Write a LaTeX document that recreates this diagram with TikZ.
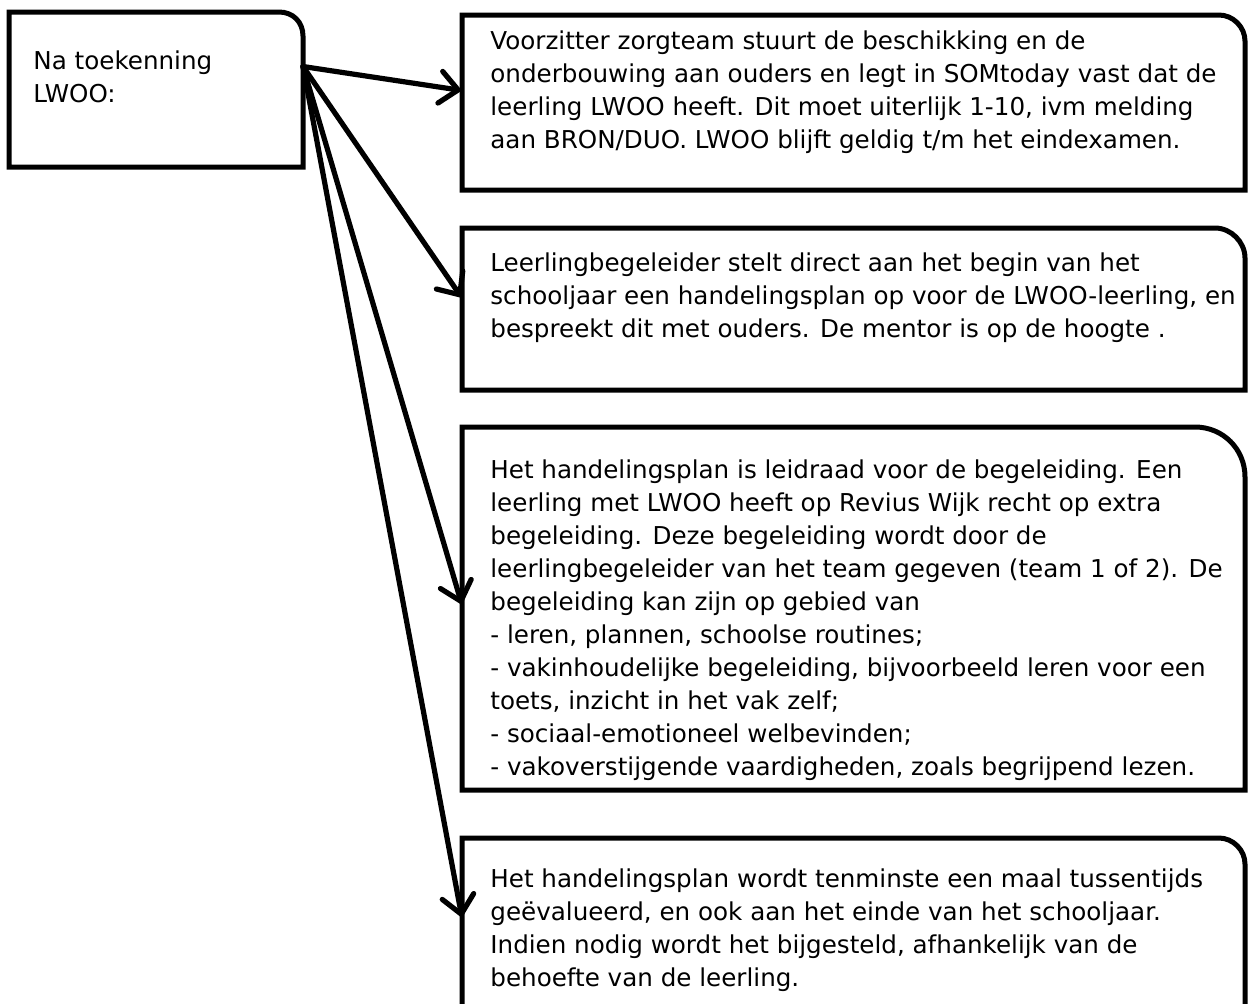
\documentclass[tikz,border=0pt]{standalone}
\usepackage{fontspec}
\setmainfont{DejaVu Sans}
\usetikzlibrary{arrows.meta}

\tikzset{
  cbox/.style={draw=none, anchor=north west, inner sep=0pt, outer sep=0pt},
  frame/.style={line width=2.5pt},
  txt/.style={anchor=north west, inner sep=0pt, align=left,
    font=\fontsize{12.3pt}{16.5pt}\selectfont},
  link/.style={line width=2.6pt, line cap=round,
    -{Straight Barb[length=9pt,width=16pt,line cap=round]}}
}

\begin{document}
\begin{tikzpicture}[x=0.5pt, y=-0.5pt]
        \clip (0,0) rectangle (1248,1003);
        % box outlines, one round corner each
        \node[cbox, minimum width=147pt, minimum height=77.5pt] (b0) at (9,12) {};
        \node[cbox, minimum width=391.5pt, minimum height=87.5pt] (b1) at (462,15) {};
        \node[cbox, minimum width=391.5pt, minimum height=81pt] (b2) at (462,228) {};
        \node[cbox, minimum width=391.5pt, minimum height=181.5pt] (b3) at (462,427) {};
        \node[cbox, minimum width=391.5pt, minimum height=101pt] (b4) at (462,838) {};
        \draw[frame] (b0.south west) -- (b0.north west) -- ([xshift=-12pt]b0.north east)
            .. controls ([xshift=-5pt]b0.north east) and ([yshift=-5pt]b0.north east) .. ([yshift=-12pt]b0.north east) -- (b0.south east) -- cycle;
        \draw[frame] (b1.south west) -- (b1.north west) -- ([xshift=-13pt]b1.north east)
            .. controls ([xshift=-6pt]b1.north east) and ([yshift=-6pt]b1.north east) .. ([yshift=-13pt]b1.north east) -- (b1.south east) -- cycle;
        \draw[frame] (b2.south west) -- (b2.north west) -- ([xshift=-15pt]b2.north east)
            .. controls ([xshift=-7pt]b2.north east) and ([yshift=-7pt]b2.north east) .. ([yshift=-15pt]b2.north east) -- (b2.south east) -- cycle;
        \draw[frame] (b3.south west) -- (b3.north west) -- ([xshift=-25pt]b3.north east)
            .. controls ([xshift=-11pt]b3.north east) and ([yshift=-11pt]b3.north east) .. ([yshift=-25pt]b3.north east) -- (b3.south east) -- cycle;
        \draw[frame] (b4.south west) -- (b4.north west) -- ([xshift=-13pt]b4.north east)
            .. controls ([xshift=-6pt]b4.north east) and ([yshift=-6pt]b4.north east) .. ([yshift=-13pt]b4.north east) -- (b4.south east) -- cycle;
        % texts
        \node[txt] (t0) at ([shift={(12pt,-19pt)}]b0.north west) {Na toekenning\\LWOO:};
        \node[txt] (t1) at ([shift={(14pt,-7.5pt)}]b1.north west) {Voorzitter zorgteam stuurt de beschikking en de\\
            onderbouwing aan ouders en legt in SOMtoday vast dat de\\
            leerling LWOO heeft. Dit moet uiterlijk 1-10, ivm melding\\
            aan BRON/DUO. LWOO blijft geldig t/m het eindexamen.};
        \node[txt] (t2) at ([shift={(14pt,-12pt)}]b2.north west) {Leerlingbegeleider stelt direct aan het begin van het\\
            schooljaar een handelingsplan op voor de LWOO-leerling, en\\
            bespreekt dit met ouders. De mentor is op de hoogte .};
        \node[txt] (t3) at ([shift={(14pt,-16pt)}]b3.north west) {Het handelingsplan is leidraad voor de begeleiding. Een\\
            leerling met LWOO heeft op Revius Wijk recht op extra\\
            begeleiding. Deze begeleiding wordt door de\\
            leerlingbegeleider van het team gegeven (team 1 of 2). De\\
            begeleiding kan zijn op gebied van\\
            - leren, plannen, schoolse routines;\\
            - vakinhoudelijke begeleiding, bijvoorbeeld leren voor een\\
            toets, inzicht in het vak zelf;\\
            - sociaal-emotioneel welbevinden;\\
            - vakoverstijgende vaardigheden, zoals begrijpend lezen.};
        \node[txt] (t4) at ([shift={(14pt,-15pt)}]b4.north west) {Het handelingsplan wordt tenminste een maal tussentijds\\
            geëvalueerd, en ook aan het einde van het schooljaar.\\
            Indien nodig wordt het bijgesteld, afhankelijk van de\\
            behoefte van de leerling.};
        % arrows
        \coordinate (fan) at ([yshift=11.5pt]b0.east);
        \draw[link] (fan) -- ([yshift=6pt]b1.west);
        \draw[link] (fan) -- ([yshift=5.5pt]b2.west);
        \draw[link] (fan) -- ([yshift=1.75pt]b3.west);
        \draw[link] (fan) -- ([yshift=10.5pt]b4.west);
    \end{tikzpicture}
\end{document}
